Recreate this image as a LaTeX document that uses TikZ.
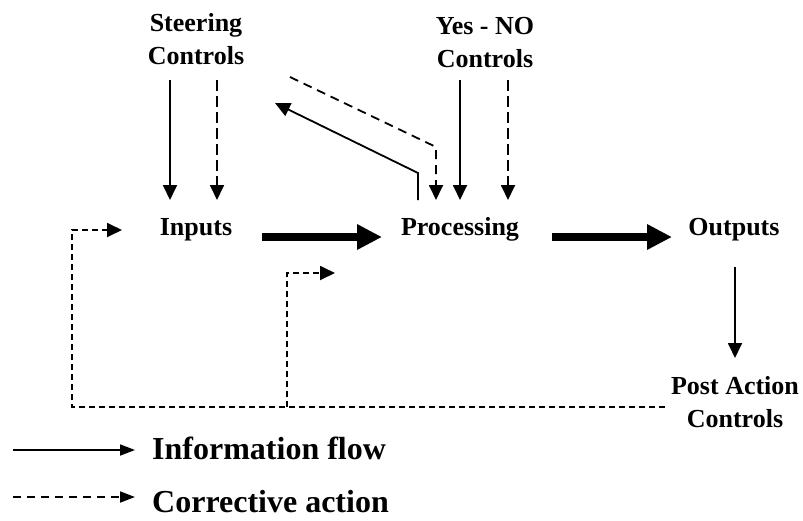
\documentclass[tikz,border=0pt]{standalone}
\usepackage{fontspec}
\setmainfont{Liberation Serif}
\usetikzlibrary{arrows.meta}

\begin{document}
\begin{tikzpicture}[x=1pt,y=-1pt,
  lbl/.style={font=\bfseries\fontsize{26}{33}\selectfont, inner sep=0pt, align=center},
  leg/.style={font=\bfseries\fontsize{32}{38}\selectfont, inner sep=0pt, anchor=base west},
  flow/.style={line width=1.8pt, -{Triangle[length=15pt,width=14pt]}},
  fix/.style={flow, dash pattern=on 11pt off 5pt},
  loop/.style={flow, dash pattern=on 6pt off 4pt},
  main/.style={line width=8pt, -{Triangle[length=25pt,width=24pt]}},
  legflow/.style={line width=1.8pt, -{Triangle[length=15pt,width=11pt]}},
]
\useasboundingbox (0,0) rectangle (803,520);

% labels
\node[lbl] (steer) at (196,39) {Steering\\Controls};
\node[lbl] (yesno) at (485,43) {Yes - NO\\Controls};
\node[lbl,anchor=base] (in) at (196,235) {Inputs};
\node[lbl,anchor=base] (proc) at (460,235) {Processing};
\node[lbl,anchor=base] (out) at (734,235) {Outputs};
\node[lbl] (post) at (735,402) {Post Action\\Controls};

% arrow end points
\coordinate (sA) at (170,80);   \coordinate (sAe) at (170,200);
\coordinate (sB) at (217,80);   \coordinate (sBe) at (217,200);
\coordinate (yA) at (460,80);   \coordinate (yAe) at (460,200);
\coordinate (yB) at (508,80);   \coordinate (yBe) at (508,200);
\coordinate (fbS) at (418,200); \coordinate (fbSk) at (418,173); \coordinate (fbSe) at (275,103);
\coordinate (fbD) at (290,77);  \coordinate (fbDk) at (436,147); \coordinate (fbDe) at (436,200);
\coordinate (m1) at (262,237);  \coordinate (m1e) at (382,237);
\coordinate (m2) at (552,237);  \coordinate (m2e) at (672,237);
\coordinate (oA) at (735,267);  \coordinate (oAe) at (735,358);
\coordinate (bR) at (665,407);  \coordinate (bL) at (72,407);
\coordinate (bLu) at (72,230);  \coordinate (bLe) at (122,230);
\coordinate (bM) at (287,407);  \coordinate (bMu) at (287,273); \coordinate (bMe) at (335,273);

% controls feeding the inputs and the processing
\draw[flow] (sA) -- (sAe);
\draw[fix]  (sB) -- (sBe);
\draw[flow] (yA) -- (yAe);
\draw[fix]  (yB) -- (yBe);

% feedback between processing and steering controls
\draw[flow] (fbS) -- (fbSk) -- (fbSe);
\draw[fix, dash pattern=on 9pt off 6pt] (fbD) -- (fbDk) -- (fbDe);

% main information flow
\draw[main] (m1) -- (m1e);
\draw[main] (m2) -- (m2e);
\draw[flow] (oA) -- (oAe);

% corrective loop from post action controls
\draw[loop] (bR) -- (bL) -- (bLu) -- (bLe);
\draw[loop] (bM) -- (bMu) -- (bMe);

% legend
\coordinate (l1) at (13,450); \coordinate (l1e) at (135,450);
\coordinate (l2) at (13,497); \coordinate (l2e) at (135,497);
\draw[legflow] (l1) -- (l1e);
\draw[legflow, dash pattern=on 8pt off 6pt] (l2) -- (l2e);
\node[leg] (legA) at (152,459) {Information flow};
\node[leg] (legB) at (152,512) {Corrective action};
\end{tikzpicture}
\end{document}
